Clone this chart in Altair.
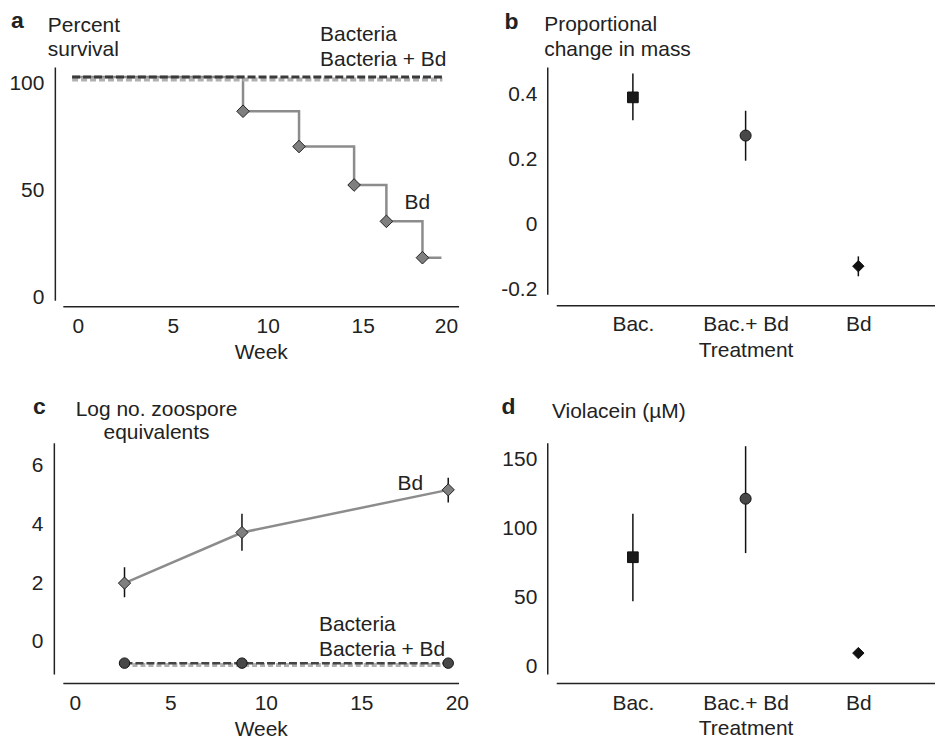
import altair as alt
import pandas as pd

FONT = "Liberation Sans"
INK = "#222222"
GREY_LINE = "#8c8c8c"
GREY_FILL = "#7f7f7f"
FS = 21

# ---------------- panel a: percent survival ----------------
surv_weeks = [-0.3, 8.7, 11.65, 14.55, 16.25, 18.15, 19.15]
surv_bd = [103, 87, 70.5, 52.5, 35.5, 18.5, 18.5]
surv_marker = [False, True, True, True, True, True, False]
bac_weeks = [-0.3, 19.2]
bac_surv = [103, 103]
bacbd_surv = [101.8, 101.8]

# ---------------- panel b: proportional change in mass ----------------
treatments = ["Bac.", "Bac.+ Bd", "Bd"]
mass_mean = [0.39, 0.273, -0.127]
mass_lo = [0.32, 0.196, -0.158]
mass_hi = [0.463, 0.349, -0.097]

# ---------------- panel c: log zoospore equivalents ----------------
zoo_weeks = [2.6, 8.75, 19.55]
zoo_bd = [2.0, 3.72, 5.17]
zoo_bd_lo = [1.52, 3.1, 4.74]
zoo_bd_hi = [2.54, 4.36, 5.58]
zoo_bac = [-0.72, -0.72, -0.72]
zoo_bacbd = [-0.78, -0.78, -0.78]

# ---------------- panel d: violacein ----------------
viol_mean = [79, 121.5, 9.4]
viol_lo = [47, 82, 9.4]
viol_hi = [110.6, 159.6, 9.4]

marker_shapes = ["square", "circle", "diamond"]
marker_fills = ["#1a1a1a", "#484848", "#111111"]


def y_axis(values, pad, offset, expr=None):
    kw = dict(values=values, title=None, ticks=False, tickSize=0, grid=False,
              domainColor=INK, domainWidth=1.5, labelFontSize=FS, labelColor=INK,
              labelFont=FONT, labelPadding=pad, offset=offset)
    if expr:
        kw["labelExpr"] = expr
    return alt.Axis(**kw)


def x_axis(title, values, pad, offset, tpad):
    kw = dict(title=title, ticks=False, tickSize=0, grid=False, domainColor=INK,
              domainWidth=1.5, labelFontSize=FS, labelColor=INK, labelFont=FONT,
              labelPadding=pad, offset=offset, labelAngle=0, titleFontSize=FS,
              titleFont=FONT, titleFontWeight="normal", titleColor=INK,
              titlePadding=tpad)
    if values is not None:
        kw["values"] = values
    return alt.Axis(**kw)


def note(text, x, y, size=FS, weight="normal", align="left"):
    return alt.Chart(pd.DataFrame({"t": [text]})).mark_text(
        align=align, baseline="alphabetic", fontSize=size, fontWeight=weight,
        color=INK, font=FONT
    ).encode(x=alt.value(x), y=alt.value(y), text="t:N")


# ===== panel a =====
xa = alt.Scale(domain=[-0.79, 20.05], nice=False, zero=False)
ya = alt.Scale(domain=[-1.4, 107.7], nice=False, zero=False)
df_a_bd = pd.DataFrame({"week": surv_weeks, "val": surv_bd, "m": surv_marker})
df_a_bac = pd.DataFrame({"week": bac_weeks, "val": bac_surv})
df_a_bacbd = pd.DataFrame({"week": bac_weeks, "val": bacbd_surv})
df_a_lab = pd.DataFrame({"week": [12.76, 12.76, 17.2],
                         "val": [119.7, 108.0, 41.4],
                         "t": ["Bacteria", "Bacteria + Bd", "Bd"]})

a_x = alt.X("week:Q", scale=xa, axis=x_axis("Week", [0, 5, 10, 15, 20], 9, 6, 5))
a_y = alt.Y("val:Q", scale=ya, axis=y_axis([0, 50, 100], 11, 8))
a_line = alt.Chart(df_a_bd).mark_line(interpolate="step-after", color=GREY_LINE,
                                       strokeWidth=2.5).encode(x=a_x, y=a_y)
a_bacbd = alt.Chart(df_a_bacbd).mark_line(color="#b0b0b0", strokeWidth=4,
                                           strokeDash=[6, 3]).encode(
    x=alt.X("week:Q", scale=xa), y=alt.Y("val:Q", scale=ya))
a_bac = alt.Chart(df_a_bac).mark_line(color="#3a3a3a", strokeWidth=3,
                                       strokeDash=[8, 3]).encode(
    x=alt.X("week:Q", scale=xa), y=alt.Y("val:Q", scale=ya))
a_pts = alt.Chart(df_a_bd).transform_filter("datum.m").mark_point(
    shape="diamond", filled=True, size=160, fill=GREY_FILL, stroke="#222222",
    strokeWidth=1, opacity=1).encode(x=alt.X("week:Q", scale=xa),
                                     y=alt.Y("val:Q", scale=ya))
a_lab = alt.Chart(df_a_lab).mark_text(align="left", baseline="alphabetic",
                                      fontSize=FS, color=INK, font=FONT).encode(
    x=alt.X("week:Q", scale=xa), y=alt.Y("val:Q", scale=ya), text="t:N")
panel_a = alt.layer(
    a_line, a_bacbd, a_bac, a_pts, a_lab,
    note("a", -52, -39.5, size=23, weight="bold"),
    note("Percent", -15, -35),
    note("survival", -15, -11.5),
).properties(width=397, height=234)

# ===== panel b =====
xb = alt.Scale(type="point", domain=treatments, padding=0.68)
yb = alt.Scale(domain=[-0.213, 0.483], nice=False, zero=False)
df_b = pd.DataFrame({"trt": treatments, "val": mass_mean, "lo": mass_lo, "hi": mass_hi})
b_expr = ("datum.value == 0 ? '0' : (datum.value < 0 ? '-' + format(-datum.value, '.1f')"
          " : format(datum.value, '.1f'))")
b_err = alt.Chart(df_b).mark_rule(color="#111111", strokeWidth=1.5).encode(
    x=alt.X("trt:N", scale=xb, sort=treatments,
            axis=x_axis("Treatment", None, 8.5, 11, 5)),
    y=alt.Y("lo:Q", scale=yb, axis=y_axis([-0.2, 0, 0.2, 0.4], 10.5, 9, b_expr)),
    y2="hi:Q")
b_pts = alt.Chart(df_b).mark_point(filled=True, stroke="#111111", strokeWidth=1,
                                   opacity=1).encode(
    x=alt.X("trt:N", scale=xb, sort=treatments),
    y=alt.Y("val:Q", scale=yb),
    shape=alt.Shape("trt:N", scale=alt.Scale(domain=treatments, range=marker_shapes), legend=None),
    fill=alt.Fill("trt:N", scale=alt.Scale(domain=treatments, range=marker_fills), legend=None),
    size=alt.Size("trt:N", scale=alt.Scale(domain=treatments, range=[115, 130, 165]), legend=None))
panel_b = alt.layer(
    b_err, b_pts,
    note("b", -52, -38.3, size=23, weight="bold"),
    note("Proportional", -12, -35.7),
    note("change in mass", -12, -11.2),
).properties(width=380, height=228)

# ===== panel c =====
xc = alt.Scale(domain=[-0.63, 20.09], nice=False, zero=False)
yc = alt.Scale(domain=[-1.09, 6.77], nice=False, zero=False)
df_c_bd = pd.DataFrame({"week": zoo_weeks, "val": zoo_bd, "lo": zoo_bd_lo, "hi": zoo_bd_hi})
df_c_bac = pd.DataFrame({"week": zoo_weeks, "val": zoo_bac})
df_c_bacbd = pd.DataFrame({"week": zoo_weeks, "val": zoo_bacbd})
df_c_lab = pd.DataFrame({"week": [16.9, 12.78, 12.78],
                         "val": [5.16, 0.36, -0.48],
                         "t": ["Bd", "Bacteria", "Bacteria + Bd"]})
c_x = alt.X("week:Q", scale=xc, axis=x_axis("Week", [0, 5, 10, 15, 20], 10, 9, 5))
c_y = alt.Y("val:Q", scale=yc, axis=y_axis([0, 2, 4, 6], 11, 9))
c_bacbd = alt.Chart(df_c_bacbd).mark_line(color="#b0b0b0", strokeWidth=4,
                                           strokeDash=[5, 3]).encode(x=c_x, y=c_y)
c_bac = alt.Chart(df_c_bac).mark_line(color="#444444", strokeWidth=2.5,
                                       strokeDash=[8, 3]).encode(
    x=alt.X("week:Q", scale=xc), y=alt.Y("val:Q", scale=yc))
c_bacpts = alt.Chart(df_c_bac).mark_point(shape="circle", filled=True, size=110,
                                          fill="#484848", stroke="#111111",
                                          strokeWidth=1, opacity=1).encode(
    x=alt.X("week:Q", scale=xc), y=alt.Y("val:Q", scale=yc))
c_line = alt.Chart(df_c_bd).mark_line(color=GREY_LINE, strokeWidth=2.5).encode(
    x=alt.X("week:Q", scale=xc), y=alt.Y("val:Q", scale=yc))
c_err = alt.Chart(df_c_bd).mark_rule(color="#111111", strokeWidth=1.5).encode(
    x=alt.X("week:Q", scale=xc), y=alt.Y("lo:Q", scale=yc), y2="hi:Q")
c_pts = alt.Chart(df_c_bd).mark_point(shape="diamond", filled=True, size=150,
                                      fill=GREY_FILL, stroke="#222222",
                                      strokeWidth=1, opacity=1).encode(
    x=alt.X("week:Q", scale=xc), y=alt.Y("val:Q", scale=yc))
c_lab = alt.Chart(df_c_lab).mark_text(align="left", baseline="alphabetic",
                                      fontSize=FS, color=INK, font=FONT).encode(
    x=alt.X("week:Q", scale=xc), y=alt.Y("val:Q", scale=yc), text="t:N")
panel_c = alt.layer(
    c_bacbd, c_bac, c_bacpts, c_line, c_err, c_pts, c_lab,
    note("c", -30, -29, size=23, weight="bold"),
    note("Log no. zoospore", 94, -26.7, align="center"),
    note("equivalents", 94, -3.4, align="center"),
).properties(width=397, height=232)

# ===== panel d =====
yd = alt.Scale(domain=[-5.8, 162.1], nice=False, zero=False)
df_d = pd.DataFrame({"trt": treatments, "val": viol_mean, "lo": viol_lo, "hi": viol_hi})
d_err = alt.Chart(df_d).mark_rule(color="#111111", strokeWidth=1.5).encode(
    x=alt.X("trt:N", scale=xb, sort=treatments,
            axis=x_axis("Treatment", None, 9.5, 9, 4)),
    y=alt.Y("lo:Q", scale=yd, axis=y_axis([0, 50, 100, 150], 10.5, 9)),
    y2="hi:Q")
d_pts = alt.Chart(df_d).mark_point(filled=True, stroke="#111111", strokeWidth=1,
                                   opacity=1).encode(
    x=alt.X("trt:N", scale=xb, sort=treatments),
    y=alt.Y("val:Q", scale=yd),
    shape=alt.Shape("trt:N", scale=alt.Scale(domain=treatments, range=marker_shapes), legend=None),
    fill=alt.Fill("trt:N", scale=alt.Scale(domain=treatments, range=marker_fills), legend=None),
    size=alt.Size("trt:N", scale=alt.Scale(domain=treatments, range=[110, 145, 250]), legend=None))
panel_d = alt.layer(
    d_err, d_pts,
    note("d", -55, -29, size=23, weight="bold"),
    note("Violacein (\u00b5M)", -4.3, -25),
).properties(width=380, height=232)

chart = alt.concat(
    panel_a, panel_b, panel_c, panel_d,
    columns=2, spacing={"row": 143, "column": 98}, bounds="flush",
).properties(
    padding={"left": 0, "top": 0, "right": 0, "bottom": 0}
).configure(font=FONT).configure_view(stroke=None)

chart.save("out.html", embed_options={"renderer": "svg", "actions": False})
